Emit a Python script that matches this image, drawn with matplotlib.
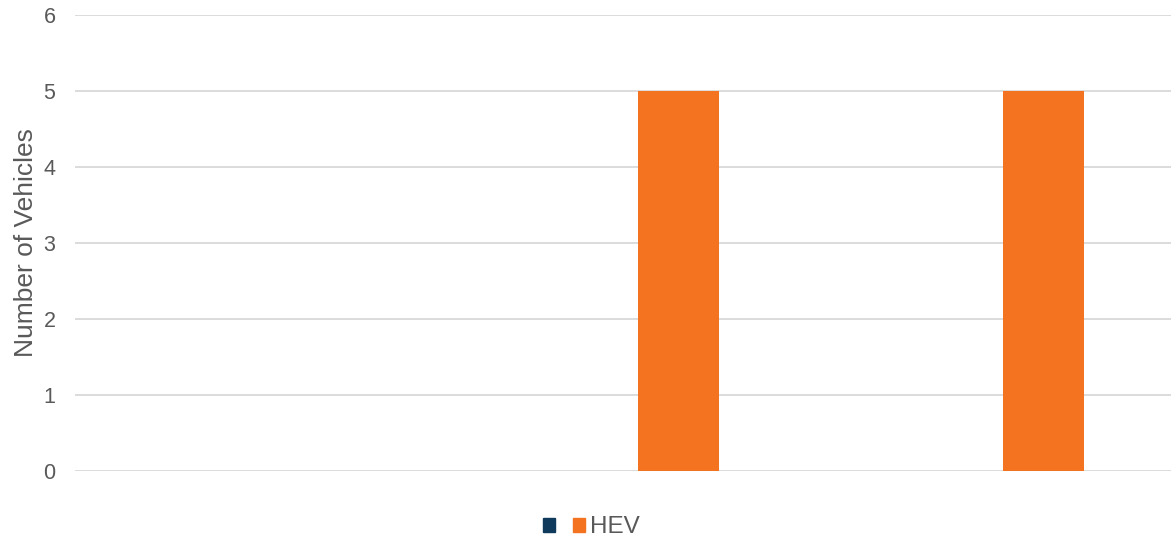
import matplotlib.pyplot as plt
import numpy as np
from matplotlib.patches import Patch

plt.rcParams['font.family'] = ['Liberation Sans', 'DejaVu Sans']

# three category slots, labels left blank on the axis
categories = ["", "", ""]
other_counts = [0, 0, 0]
hev_counts = [0, 5, 5]

navy = "#0F3A5C"
orange = "#F37321"
grey_text = "#595959"

fig = plt.figure(figsize=(11.71, 5.37), dpi=100)
ax = fig.add_axes([0.064, 0.1229, 0.936, 0.8492])

x = np.arange(len(categories))
width = 0.222
offset = 0.151
ax.bar(x - offset, other_counts, width, color=navy, label=" ")
ax.bar(x + offset, hev_counts, width, color=orange, label="HEV")

ax.set_xlim(-0.5, len(categories) - 0.5)
ax.set_ylim(0, 6)
ax.set_yticks(range(0, 7))
ax.set_xticks([])
ax.yaxis.grid(True, color="#D9D9D9", linewidth=1.3)
ax.set_axisbelow(True)
for s in ax.spines.values():
    s.set_visible(False)
ax.tick_params(axis="y", length=0, pad=14, labelsize=15.5, labelcolor=grey_text)
ax.set_ylabel("Number of Vehicles", fontsize=19, color=grey_text, labelpad=4)

handles = [Patch(color=navy), Patch(color=orange)]
fig.legend(handles, ["", "HEV"], loc="center", bbox_to_anchor=(0.505, 0.018),
           ncol=2, frameon=False, fontsize=17.5, handlelength=0.5, handleheight=0.5,
           handletextpad=0.2, columnspacing=0.55, labelcolor=grey_text)

fig.savefig("out.png", dpi=100)
